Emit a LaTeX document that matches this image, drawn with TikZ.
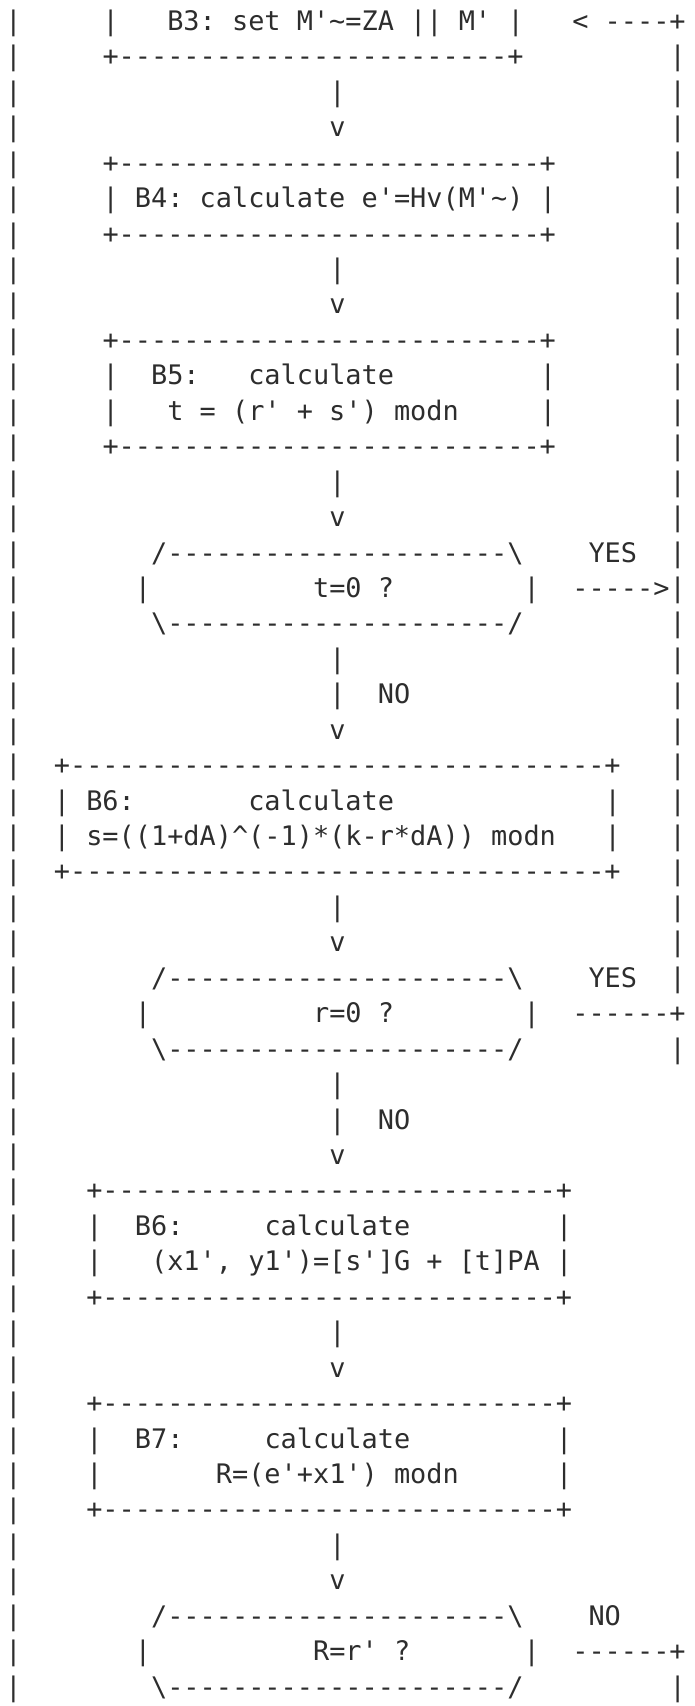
\documentclass[tikz,border=0pt]{standalone}
\usepackage{fontspec}
\setmonofont{DejaVu Sans Mono}
\definecolor{AsciiInk}{RGB}{45,45,45}
\newcommand{\dashrun}[1]{\foreach \k in {1,...,#1}{-}}

\begin{document}
\begin{tikzpicture}[x=8.1pt,y=-17.72pt,
    ascii/.style={font=\ttfamily\fontsize{13.45pt}{17.72pt}\selectfont,
                  text=AsciiInk,inner sep=0pt,anchor=base west}]
  \useasboundingbox (-2.45pt,15.2pt) rectangle (345.05pt,-837.8pt);
  % outer rails
  \foreach \r in {0,...,47}
    \node[ascii] (railL\r) at (0,\r) {|};
  \foreach \r in {1,...,27,29,...,45,47}
    \node[ascii] (railR\r) at (41,\r) {|};
  % stems and heads between the steps
  \foreach \r in {2,7,13,18,19,25,30,31,37,43}
    \node[ascii] (stem\r) at (20,\r) {|};
  \foreach \r in {3,8,14,20,26,32,38,44}
    \node[ascii] (head\r) at (20,\r) {v};
  % box rules
  \foreach \r/\c/\n in {1/6/24,4/6/26,6/6/26,9/6/26,12/6/26,21/3/33,24/3/33,
                        33/5/28,36/5/28,39/5/28,42/5/28}
    \node[ascii] (rule\r) at (\c,\r) {+\dashrun{\n}+};
  % box sides
  \foreach \r/\a/\b in {0/6/31,5/6/33,10/6/33,11/6/33,16/8/32,22/3/37,23/3/37,
                        28/8/32,34/5/34,35/5/34,40/5/34,41/5/34,46/8/32}{
    \node[ascii] (sideL\r) at (\a,\r) {|};
    \node[ascii] (sideR\r) at (\b,\r) {|};
  }
  % decision tops and bottoms
  \foreach \r in {15,27,45}
    \node[ascii] (top\r) at (9,\r) {/\dashrun{21}\textbackslash};
  \foreach \r in {17,29,47}
    \node[ascii] (bot\r) at (9,\r) {\textbackslash\dashrun{21}/};

  % steps
  \node[ascii] (b3) at (10,0) {B3: set M'\textasciitilde=ZA || M'};
  \node[ascii] (back) at (35,0) {< ----+};
  \node[ascii] (b4) at (8,5) {B4: calculate e'=Hv(M'\textasciitilde)};
  \node[ascii] (b5) at (9,10) {B5:};
  \node[ascii] (b5calc) at (15,10) {calculate};
  \node[ascii] (b5eq) at (10,11) {t = (r' + s') modn};
  \node[ascii] (tzero) at (19,16) {t=0 ?};
  \node[ascii] (yes1) at (36,15) {YES};
  \node[ascii] (yes1arr) at (35,16) {----->};
  \node[ascii] (no1) at (23,19) {NO};
  \node[ascii] (b6) at (5,22) {B6:};
  \node[ascii] (b6calc) at (15,22) {calculate};
  \node[ascii] (b6eq) at (5,23) {s=((1+dA)\textasciicircum(-1)*(k-r*dA)) modn};
  \node[ascii] (rzero) at (19,28) {r=0 ?};
  \node[ascii] (yes2) at (36,27) {YES};
  \node[ascii] (yes2arr) at (35,28) {------+};
  \node[ascii] (no2) at (23,31) {NO};
  \node[ascii] (b6p) at (8,34) {B6:};
  \node[ascii] (b6pcalc) at (16,34) {calculate};
  \node[ascii] (b6peq) at (9,35) {(x1', y1')=[s']G + [t]PA};
  \node[ascii] (b7) at (8,40) {B7:};
  \node[ascii] (b7calc) at (16,40) {calculate};
  \node[ascii] (b7eq) at (13,41) {R=(e'+x1') modn};
  \node[ascii] (rcheck) at (19,46) {R=r' ?};
  \node[ascii] (no3) at (36,45) {NO};
  \node[ascii] (no3arr) at (35,46) {------+};
\end{tikzpicture}
\end{document}
